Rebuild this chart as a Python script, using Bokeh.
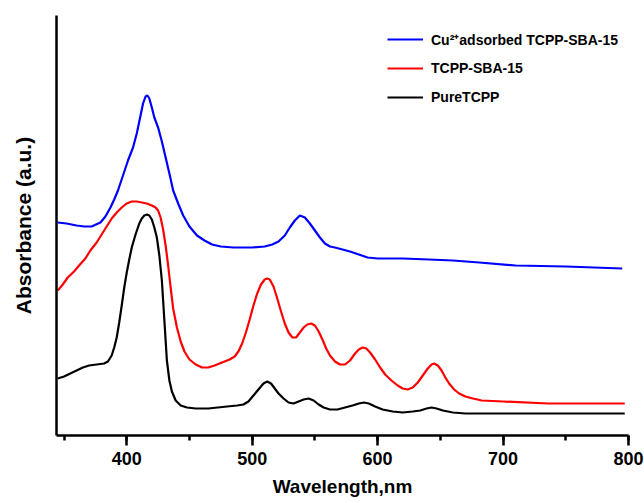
from bokeh.plotting import figure
from bokeh.models import Range1d, SingleIntervalTicker, FixedTicker, Legend, LegendItem
from bokeh.embed import file_html
from bokeh.resources import INLINE

# ---- data (wavelength in nm, absorbance in a.u.) ----
cu_wl = [345, 352, 360, 366, 372, 379, 383, 387, 390, 393, 397, 401, 405, 408, 411,
         413, 415, 416.5, 418, 420, 422, 425, 428, 431, 434, 437, 441, 445, 450, 456,
         462, 468, 475, 485, 500, 510, 516, 521, 526, 530, 534, 538, 542, 546, 550,
         554, 558, 562, 566, 572, 578, 585, 592, 600, 620, 641, 660, 681, 710, 750, 795]
cu_abs = [2.13, 2.12, 2.10, 2.09, 2.09, 2.13, 2.19, 2.28, 2.36, 2.45, 2.60, 2.75,
          2.88, 3.02, 3.20, 3.32, 3.39, 3.40, 3.37, 3.28, 3.18, 3.08, 2.94, 2.78,
          2.62, 2.45, 2.32, 2.20, 2.09, 2.00, 1.95, 1.91, 1.89, 1.88, 1.88, 1.89,
          1.91, 1.94, 2.00, 2.08, 2.15, 2.20, 2.18, 2.12, 2.05, 1.98, 1.92, 1.89,
          1.88, 1.86, 1.84, 1.81, 1.78, 1.77, 1.77, 1.76, 1.75, 1.73, 1.70, 1.69, 1.67]

sba_wl = [345, 349, 353, 358, 362, 367, 371, 376, 380, 384, 388, 392, 396, 400, 404,
          408, 412, 416, 420, 423, 425, 427, 429, 431, 433, 435, 437, 440, 443, 446,
          450, 455, 460, 465, 470, 476, 482, 486, 489, 492, 495, 498, 501, 504, 507,
          510, 512, 514, 517, 520, 523, 526, 529, 532, 535, 538, 541, 544, 547, 550,
          553, 556, 559, 562, 566, 570, 574, 578, 582, 585, 588, 591, 594, 598, 602,
          606, 611, 616, 620, 624, 628, 632, 636, 640, 643, 645, 648, 651, 654, 657,
          661, 665, 670, 676, 683, 700, 736, 797]
sba_abs = [1.45, 1.51, 1.58, 1.64, 1.70, 1.77, 1.85, 1.93, 2.01, 2.09, 2.17, 2.23,
           2.28, 2.32, 2.34, 2.34, 2.33, 2.32, 2.30, 2.28, 2.25, 2.18, 2.06, 1.90,
           1.70, 1.48, 1.27, 1.08, 0.94, 0.84, 0.76, 0.71, 0.68, 0.68, 0.70, 0.73,
           0.76, 0.79, 0.84, 0.92, 1.03, 1.16, 1.30, 1.42, 1.51, 1.56, 1.57, 1.56,
           1.49, 1.37, 1.24, 1.12, 1.03, 0.98, 0.98, 1.03, 1.08, 1.11, 1.12, 1.10,
           1.04, 0.96, 0.87, 0.80, 0.74, 0.71, 0.71, 0.75, 0.82, 0.86, 0.88, 0.87,
           0.83, 0.76, 0.68, 0.61, 0.55, 0.50, 0.47, 0.46, 0.48, 0.53, 0.60, 0.67,
           0.71, 0.72, 0.70, 0.65, 0.58, 0.52, 0.46, 0.42, 0.39, 0.37, 0.35, 0.34,
           0.32, 0.32]

pure_wl = [345, 350, 355, 360, 365, 370, 376, 382, 385, 388, 390, 392, 394, 396, 398,
           400, 402, 404, 407, 410, 412, 414, 416, 418, 420, 422, 424, 426, 428, 430,
           432, 434, 436, 439, 443, 448, 455, 465, 480, 488, 493, 497, 501, 505, 509,
           512, 515, 518, 521, 525, 529, 533, 537, 541, 545, 549, 553, 557, 562, 568,
           574, 580, 585, 589, 593, 598, 604, 612, 620, 628, 634, 639, 643, 647, 652,
           660, 670, 681, 797]
pure_abs = [0.57, 0.59, 0.62, 0.65, 0.68, 0.70, 0.71, 0.72, 0.74, 0.80, 0.88, 0.98,
            1.13, 1.30, 1.48, 1.63, 1.76, 1.88, 2.01, 2.12, 2.17, 2.20, 2.21, 2.20,
            2.16, 2.08, 1.98, 1.80, 1.55, 1.15, 0.75, 0.55, 0.44, 0.35, 0.30, 0.28,
            0.27, 0.27, 0.29, 0.30, 0.31, 0.34, 0.40, 0.46, 0.52, 0.54, 0.52, 0.47,
            0.42, 0.37, 0.33, 0.32, 0.34, 0.36, 0.37, 0.35, 0.31, 0.28, 0.26, 0.26,
            0.28, 0.30, 0.32, 0.33, 0.32, 0.29, 0.26, 0.24, 0.23, 0.24, 0.25, 0.27,
            0.28, 0.27, 0.25, 0.23, 0.22, 0.22, 0.22]

series_names = ["Cu\u00b2\u207aadsorbed TCPP-SBA-15", "TCPP-SBA-15", "PureTCPP"]
series_colors = ["#0000ff", "#ff0000", "#000000"]
x_ticks_interval = 100

FONT = "Liberation Sans"

p = figure(width=644, height=503, output_backend="svg", toolbar_location=None,
           x_range=Range1d(344, 800), y_range=Range1d(0, 4.2),
           min_border_left=56, min_border_right=16, min_border_top=15,
           min_border_bottom=68)

p.outline_line_color = None
p.xgrid.visible = False
p.ygrid.visible = False
p.background_fill_color = "white"
p.border_fill_color = "white"

r_cu = p.line(cu_wl, cu_abs, line_color=series_colors[0], line_width=2.2)
r_sba = p.line(sba_wl, sba_abs, line_color=series_colors[1], line_width=2.2)
r_pure = p.line(pure_wl, pure_abs, line_color=series_colors[2], line_width=2.2)

# x axis
xa = p.xaxis[0]
xa.ticker = SingleIntervalTicker(interval=x_ticks_interval, num_minor_ticks=2)
xa.axis_line_width = 2.5
xa.major_tick_line_width = 2.5
xa.minor_tick_line_width = 2.5
xa.major_tick_in = 0
xa.major_tick_out = 10
xa.minor_tick_in = 0
xa.minor_tick_out = 5
xa.major_label_text_font = FONT
xa.major_label_text_font_style = "bold"
xa.major_label_text_font_size = "18px"
xa.major_label_text_color = "black"
xa.major_label_standoff = 6
xa.axis_label = "Wavelength,nm"
xa.axis_label_text_font = FONT
xa.axis_label_text_font_style = "bold"
xa.axis_label_text_font_size = "19px"
xa.axis_label_text_color = "black"
xa.axis_label_standoff = 8

# y axis
ya = p.yaxis[0]
ya.ticker = FixedTicker(ticks=[])
ya.axis_line_width = 2.5
ya.major_tick_in = 0
ya.major_tick_out = 0
ya.minor_tick_in = 0
ya.minor_tick_out = 0
ya.major_label_text_font_size = "0px"
ya.axis_label = "Absorbance (a.u.)"
ya.axis_label_text_font = FONT
ya.axis_label_text_font_style = "bold"
ya.axis_label_text_font_size = "21px"
ya.axis_label_text_color = "black"
ya.axis_label_standoff = 22

legend = Legend(items=[LegendItem(label=series_names[0], renderers=[r_cu]),
                       LegendItem(label=series_names[1], renderers=[r_sba]),
                       LegendItem(label=series_names[2], renderers=[r_pure])],
                location=(331, 328))
legend.border_line_color = None
legend.background_fill_alpha = 0
legend.padding = 0
legend.margin = 0
legend.spacing = 9
legend.glyph_width = 36
legend.glyph_height = 20
legend.label_height = 20
legend.label_standoff = 8
legend.label_text_font = FONT
legend.label_text_font_style = "bold"
legend.label_text_font_size = "14px"
legend.label_text_color = "black"
p.add_layout(legend, "center")

open("out.html", "w").write(file_html(p, INLINE))
